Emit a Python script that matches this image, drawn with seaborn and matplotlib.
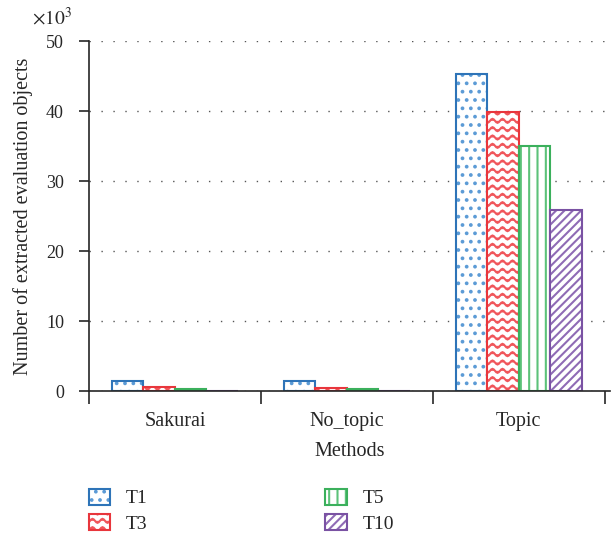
import warnings
import numpy as np
import pandas as pd
import matplotlib
matplotlib.use("Agg")
import matplotlib.pyplot as plt
from matplotlib import hatch as mhatch
from matplotlib.colors import to_rgba
from matplotlib.path import Path
import seaborn as sns

warnings.filterwarnings("ignore")

# data (values in thousands)
methods = ["Sakurai", "No_topic", "Topic"]
series = ["T1", "T3", "T5", "T10"]
t1 = [1.47, 1.47, 45.3]
t3 = [0.53, 0.50, 39.9]
t5 = [0.25, 0.25, 35.0]
t10 = [0.07, 0.07, 25.9]

edge_colors = ["#2e74b8", "#e8363c", "#3bb05c", "#7a52a3"]
hatch_colors = ["#5c9bd6", "#f0565b", "#5cc279", "#8f6bb5"]
hatches = ["..", "zz", "||", "////"]


# wavy hatch for T3 (not built into matplotlib)
class WaveHatch(mhatch.HatchPatternBase):
    def __init__(self, hatch, density):
        self.num_rows = int(hatch.count("z") * density)
        self.pts = 81
        self.num_vertices = self.num_rows * self.pts

    def set_vertices_and_codes(self, vertices, codes):
        x = np.linspace(0, 1, self.pts)
        for i in range(self.num_rows):
            y0 = (i + 0.5) / self.num_rows
            sl = slice(i * self.pts, (i + 1) * self.pts)
            vertices[sl, 0] = x
            vertices[sl, 1] = y0 + 0.02 * np.sin(2 * np.pi * 10 * x)
            codes[sl] = Path.LINETO
            codes[i * self.pts] = Path.MOVETO


mhatch._hatch_types.append(WaveHatch)

rows = []
for name, vals in zip(series, [t1, t3, t5, t10]):
    for m, v in zip(methods, vals):
        rows.append({"method": m, "series": name, "value": v})
df = pd.DataFrame(rows)

sns.set_style("ticks")
plt.rcParams["font.family"] = ["Liberation Serif", "DejaVu Serif"]
plt.rcParams["mathtext.fontset"] = "stix"
plt.rcParams["hatch.linewidth"] = 1.5

fig = plt.figure(figsize=(6.12, 5.37), dpi=100)
ax = fig.add_axes([89 / 612, 1 - 391 / 537, (610 - 89) / 612, (391 - 41) / 537])

sns.barplot(data=df, x="method", y="value", hue="series", order=methods,
            hue_order=series, palette=edge_colors, width=0.733,
            saturation=1, legend=False, ax=ax)

for cont, col, hcol, h in zip(ax.containers, edge_colors, hatch_colors, hatches):
    for p in cont.patches:
        p.set_facecolor("white")
        p.set_edgecolor(col)
        p.set_hatch(h)
        p.set_linewidth(1.5)
        p._hatch_color = to_rgba(hcol)

ax.set_xlim(-0.5, 2.53)
ax.set_ylim(0, 50)
ax.set_yticks([0, 10, 20, 30, 40, 50])
ax.set_axisbelow(True)
ax.yaxis.grid(True, linestyle=(0, (1, 7.6)), color="#555555", linewidth=1)
ax.xaxis.grid(False)

sns.despine(ax=ax)
ax.spines["left"].set_linewidth(1.2)
ax.spines["bottom"].set_linewidth(1.2)

ax.tick_params(axis="y", direction="out", length=7.5, width=1.2, pad=10.5,
               labelsize=13)
ax.tick_params(axis="x", which="major", length=0, pad=15, labelsize=14.5)
ax.set_xticks([-0.5, 0.5, 1.5, 2.5], minor=True)
ax.tick_params(axis="x", which="minor", direction="out", length=9, width=1.2)

ax.set_xlabel("Methods", fontsize=14.5, labelpad=8)
ax.set_ylabel("Number of extracted evaluation objects", fontsize=14.5,
              labelpad=9)

fig.text(32 / 612, 1 - 25 / 537, r"$\times10^3$", fontsize=14, ha="left",
         va="baseline")

leg = fig.legend(handles=ax.containers, labels=series, ncol=2, loc="upper left",
                 bbox_to_anchor=(71 / 612, 1 - 471 / 537), frameon=False,
                 fontsize=14, handlelength=1.13, handleheight=0.9,
                 handletextpad=0.8, columnspacing=9.1, labelspacing=0.35)
for hp, hcol in zip(leg.legend_handles, hatch_colors):
    hp._hatch_color = to_rgba(hcol)

fig.savefig("out.png", dpi=100)
